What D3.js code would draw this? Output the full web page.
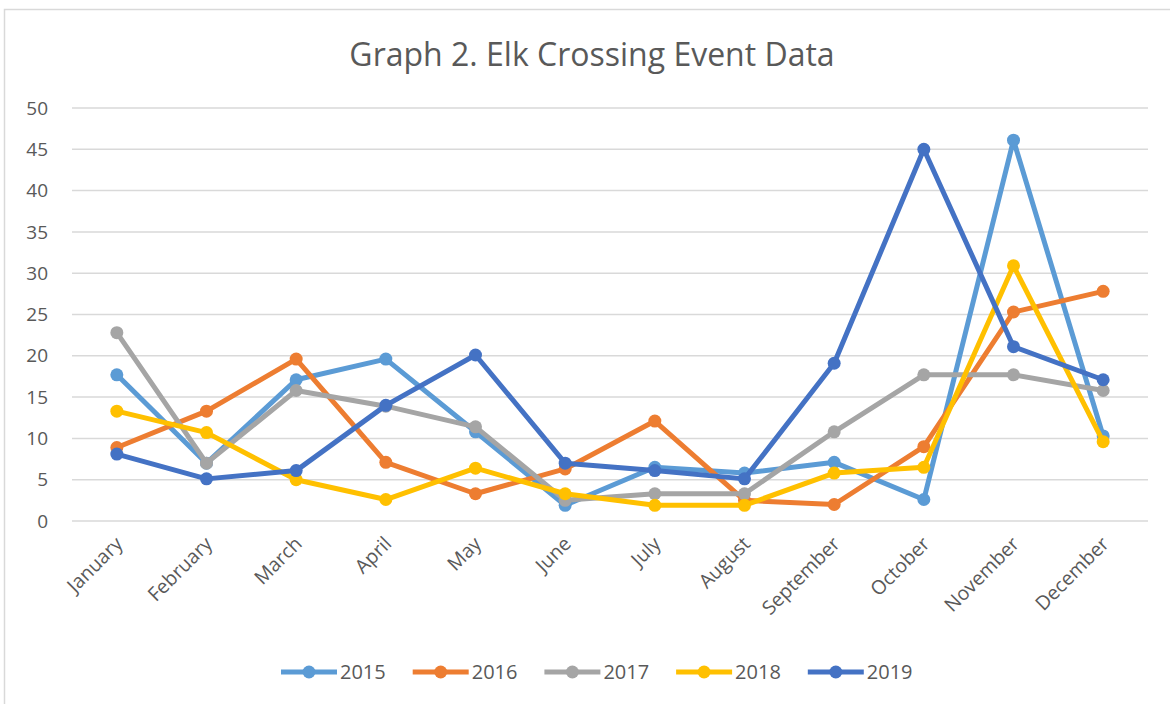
<!DOCTYPE html>
<html lang="en">
<head>
<meta charset="utf-8" />
<title>Elk Crossing Event Data</title>
<script src="https://cdn.jsdelivr.net/npm/d3@7"></script>
<style>
    body { margin: 0; background: #fff; }
    svg text { font-family: "Open Sans", sans-serif; fill: #595959; }
</style>
</head>
<body>
<script>
    var months = ["January", "February", "March", "April", "May", "June",
        "July", "August", "September", "October", "November", "December"];
    var years = ["2015", "2016", "2017", "2018", "2019"];
    var colors = ["#5B9BD5", "#ED7D31", "#A5A5A5", "#FFC000", "#4472C4"];
    var yTicks = [0, 5, 10, 15, 20, 25, 30, 35, 40, 45, 50];

    var v2015 = [17.7, 7.0, 17.1, 19.6, 10.8, 1.9, 6.5, 5.8, 7.1, 2.6, 46.1, 10.3];
    var v2016 = [8.9, 13.3, 19.6, 7.1, 3.3, 6.3, 12.1, 2.5, 2.0, 9.0, 25.3, 27.8];
    var v2017 = [22.8, 7.0, 15.8, 13.9, 11.4, 2.5, 3.3, 3.3, 10.8, 17.7, 17.7, 15.8];
    var v2018 = [13.3, 10.7, 5.0, 2.6, 6.4, 3.3, 1.9, 1.9, 5.8, 6.5, 30.9, 9.6];
    var v2019 = [8.1, 5.1, 6.1, 14.0, 20.1, 7.0, 6.1, 5.1, 19.1, 45.0, 21.1, 17.1];
    var series = [v2015, v2016, v2017, v2018, v2019];

    var w = 1170, h = 704;
    var plotLeft = 72, plotRight = 1148, plotTop = 108, plotBottom = 521;

    var svg = d3.select("body").append("svg")
        .attr("width", w)
        .attr("height", h);

    // chart frame
    svg.append("rect")
        .attr("x", 4.5).attr("y", 9.5)
        .attr("width", w).attr("height", h)
        .attr("fill", "#fff")
        .attr("stroke", "#d9d9d9")
        .attr("stroke-width", 1.5);

    var x = d3.scalePoint()
        .domain(months)
        .range([plotLeft, plotRight])
        .padding(0.5);

    var y = d3.scaleLinear()
        .domain([0, 50])
        .range([plotBottom, plotTop]);

    // gridlines
    svg.append("g")
        .selectAll("line")
        .data(yTicks)
        .enter()
        .append("line")
        .attr("x1", plotLeft).attr("x2", plotRight)
        .attr("y1", function(d) { return y(d); })
        .attr("y2", function(d) { return y(d); })
        .attr("stroke", "#d9d9d9")
        .attr("stroke-width", 1.5);

    // y labels
    svg.append("g")
        .selectAll("text")
        .data(yTicks)
        .enter()
        .append("text")
        .attr("x", 48)
        .attr("y", function(d) { return y(d); })
        .attr("dy", "0.35em")
        .attr("text-anchor", "end")
        .attr("font-size", "19px")
        .text(function(d) { return d; });

    // x labels
    svg.append("g")
        .selectAll("text")
        .data(months)
        .enter()
        .append("text")
        .attr("transform", function(d) {
            return "translate(" + (x(d) + 7) + "," + 545 + ") rotate(-45)";
        })
        .attr("text-anchor", "end")
        .attr("font-size", "19.5px")
        .text(function(d) { return d; });

    var line = d3.line()
        .x(function(d, i) { return x(months[i]); })
        .y(function(d) { return y(d); });

    var groups = svg.append("g")
        .selectAll("g")
        .data(series)
        .enter()
        .append("g");

    groups.append("path")
        .attr("d", function(d) { return line(d); })
        .attr("fill", "none")
        .attr("stroke", function(d, i) { return colors[i]; })
        .attr("stroke-width", 5)
        .attr("stroke-linejoin", "round");

    groups.each(function(d, i) {
        d3.select(this).selectAll("circle")
            .data(d)
            .enter()
            .append("circle")
            .attr("cx", function(v, j) { return x(months[j]); })
            .attr("cy", function(v) { return y(v); })
            .attr("r", 6.5)
            .attr("fill", colors[i]);
    });

    // title
    svg.append("text")
        .attr("x", 592)
        .attr("y", 66)
        .attr("text-anchor", "middle")
        .attr("font-size", "32px")
        .text("Graph 2. Elk Crossing Event Data");

    // legend
    var legend = svg.append("g")
        .selectAll("g")
        .data(years)
        .enter()
        .append("g")
        .attr("transform", function(d, i) {
            return "translate(" + (281 + i * 131.7) + ",672)";
        });

    legend.append("line")
        .attr("x1", 0).attr("x2", 56)
        .attr("stroke", function(d, i) { return colors[i]; })
        .attr("stroke-width", 5);

    legend.append("circle")
        .attr("cx", 28)
        .attr("r", 6.5)
        .attr("fill", function(d, i) { return colors[i]; });

    legend.append("text")
        .attr("x", 59)
        .attr("dy", "0.35em")
        .attr("font-size", "20px")
        .text(function(d) { return d; });
</script>
</body>
</html>
